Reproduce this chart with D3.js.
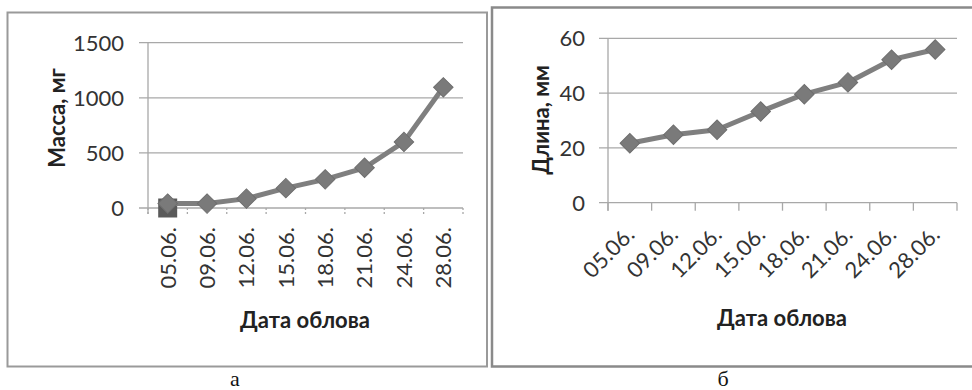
<!DOCTYPE html>
<html>
<head>
<meta charset="utf-8">
<script src="https://cdn.jsdelivr.net/npm/d3@7"></script>
<style>
  html, body { margin: 0; padding: 0; background: #fff; }
  svg { display: block; }
</style>
</head>
<body>
<svg id="chart" width="972" height="390"></svg>
<script>
// ---- data ----
const dates = ["05.06.", "09.06.", "12.06.", "15.06.", "18.06.", "21.06.", "24.06.", "28.06."];
const massValues = [40, 40, 85, 180, 260, 365, 600, 1095];
const massSquareValues = [0];           // second (square-marker) series, only first date
const massTicks = [0, 500, 1000, 1500];
const lengthValues = [21.7, 24.8, 26.6, 33.3, 39.6, 43.9, 52.2, 55.9];
const lengthTicks = [0, 20, 40, 60];
const xTitle = "Дата облова";
const massTitle = "Масса, мг";
const lengthTitle = "Длина, мм";
const captions = ["а", "б"];

const svg = d3.select("#chart");
const FONT = "Lato, 'Open Sans', sans-serif";
const lineColor = "#7f7f7f";
const gridColor = "#a8a8a8";

// panel frames
svg.append("rect").attr("x", 7.5).attr("y", 12.5).attr("width", 479.5).attr("height", 354)
  .attr("fill", "none").attr("stroke", "#9a9a9a").attr("stroke-width", 2);
svg.append("rect").attr("x", 492).attr("y", 7.5).attr("width", 500).attr("height", 359)
  .attr("fill", "none").attr("stroke", "#8a8a8a").attr("stroke-width", 2.5);

function panel(cfg) {
  const g = svg.append("g");
  const x = d3.scaleBand().domain(dates).range([cfg.x0, cfg.x1]);
  const y = d3.scaleLinear().domain([0, d3.max(cfg.ticks)]).range([cfg.yb, cfg.yt]);

  // gridlines
  g.selectAll(".grid").data(cfg.ticks.filter(t => t !== 0)).join("line")
    .attr("x1", cfg.x0 - 9).attr("x2", cfg.x1)
    .attr("y1", d => y(d)).attr("y2", d => y(d))
    .attr("stroke", gridColor).attr("stroke-width", 1.3);

  // y axis line
  g.append("line").attr("x1", cfg.x0).attr("x2", cfg.x0)
    .attr("y1", cfg.yt).attr("y2", cfg.yb + cfg.xtick)
    .attr("stroke", gridColor).attr("stroke-width", 1.3);
  // x axis line
  g.append("line").attr("x1", cfg.x0 - 9).attr("x2", cfg.x1)
    .attr("y1", cfg.yb).attr("y2", cfg.yb)
    .attr("stroke", gridColor).attr("stroke-width", 1.3);
  // x ticks at category boundaries
  const bounds = dates.map(d => x(d)).concat([cfg.x1]);
  g.selectAll(".xt").data(bounds).join("line")
    .attr("x1", d => d).attr("x2", d => d)
    .attr("y1", cfg.yb).attr("y2", cfg.yb + cfg.xtick)
    .attr("stroke", gridColor).attr("stroke-width", 1.3)
    .attr("stroke-dasharray", cfg.dashTicks ? "2,2" : null);

  // y tick labels
  g.selectAll(".yl").data(cfg.ticks).join("text")
    .attr("x", cfg.ylx).attr("y", d => y(d)).attr("dy", "0.36em")
    .attr("text-anchor", "end")
    .attr("font-family", FONT).attr("font-size", 22).attr("fill", "#333")
    .text(d => d);

  // x tick labels
  g.selectAll(".xl").data(dates).join("text")
    .attr("transform", d => `translate(${x(d) + x.bandwidth() / 2 + cfg.xlDx},${cfg.xlY}) rotate(${cfg.rot})`)
    .attr("dy", cfg.rot === -90 ? "0.36em" : "0")
    .attr("text-anchor", "end")
    .attr("font-family", FONT).attr("font-size", 22).attr("fill", "#333")
    .text(d => d);

  // titles
  g.append("text")
    .attr("transform", `translate(${cfg.ytX},${cfg.ytY}) rotate(-90)`)
    .attr("dy", "0.36em").attr("text-anchor", "middle")
    .attr("font-family", FONT).attr("font-weight", "bold").attr("font-size", 22).attr("fill", "#222")
    .text(cfg.yTitle);
  g.append("text")
    .attr("x", cfg.xtX).attr("y", cfg.xtY).attr("text-anchor", "middle")
    .attr("font-family", FONT).attr("font-weight", "bold").attr("font-size", 22).attr("fill", "#222")
    .text(xTitle);

  const cx = d => x(d) + x.bandwidth() / 2;

  // square marker series
  if (cfg.squares) {
    g.selectAll(".sq").data(cfg.squares).join("path")
      .attr("d", d3.symbol(d3.symbolSquare, 361)())
      .attr("transform", (d, i) => `translate(${cx(dates[i])},${y(d)})`)
      .attr("fill", "#5a5a5a");
  }

  // line
  const line = d3.line().x((d, i) => cx(dates[i])).y(d => y(d));
  g.append("path").datum(cfg.values).attr("d", line)
    .attr("fill", "none").attr("stroke", lineColor).attr("stroke-width", 5)
    .attr("stroke-linejoin", "round");

  // diamond markers
  g.selectAll(".mk").data(cfg.values).join("path")
    .attr("d", d3.symbol(d3.symbolSquare, 190)())
    .attr("transform", (d, i) => `translate(${cx(dates[i])},${y(d)}) rotate(45)`)
    .attr("fill", "#7a7a7a").attr("stroke", "#6e6e6e").attr("stroke-width", 1);

  // caption
  svg.append("text").attr("x", cfg.capX).attr("y", 386).attr("text-anchor", "middle")
    .attr("font-family", "'Liberation Serif', serif").attr("font-size", 22).attr("fill", "#111")
    .text(cfg.caption);
}

panel({
  x0: 148, x1: 463, yb: 208, yt: 42.7, ticks: massTicks, values: massValues, squares: massSquareValues,
  xtick: 6, dashTicks: true, ylx: 124, xlY: 227, xlDx: 0, rot: -90,
  ytX: 57, ytY: 118, yTitle: massTitle, xtX: 305, xtY: 328, capX: 235, caption: captions[0]
});

panel({
  x0: 608, x1: 957, yb: 202.7, yt: 38.3, ticks: lengthTicks, values: lengthValues,
  xtick: 8, dashTicks: false, ylx: 585, xlY: 236, xlDx: 6, rot: -45,
  ytX: 541, ytY: 120, yTitle: lengthTitle, xtX: 782, xtY: 326, capX: 723, caption: captions[1]
});
</script>
</body>
</html>
